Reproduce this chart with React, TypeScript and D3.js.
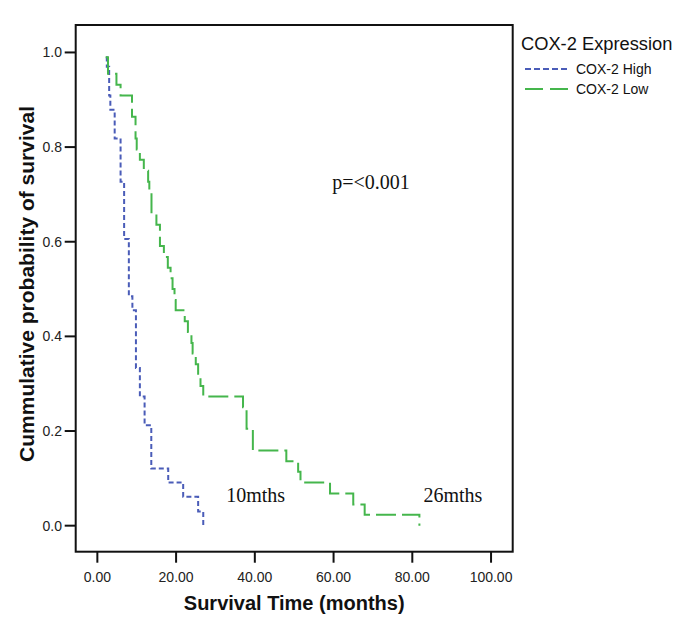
import React from "react";
import * as d3 from "d3";

// ---- Data ----
const X_TICKS = [0, 20, 40, 60, 80, 100];
const Y_TICKS = [0, 0.2, 0.4, 0.6, 0.8, 1.0];

// COX-2 High (Kaplan-Meier steps: time in months, cumulative survival)
const HIGH_TIMES = [2.2, 2.4, 3.0, 3.3, 4.4, 5.9, 6.8, 8.0, 8.9, 9.8, 10.8, 12.0, 13.7, 18.0, 21.8, 25.6, 26.9];
const HIGH_SURV = [0.99, 0.97, 0.909, 0.879, 0.818, 0.727, 0.606, 0.485, 0.455, 0.333, 0.273, 0.212, 0.121, 0.091, 0.061, 0.03, 0.0];

// COX-2 Low
const LOW_TIMES = [
  2.1, 2.7, 4.85, 5.9, 8.8, 9.7, 10.0, 10.8, 11.8, 12.9, 13.2, 13.75, 15.0, 15.9, 15.9, 16.9,
  17.9, 18.6, 19.1, 19.6, 19.9, 22.2, 23.0, 23.9, 24.2, 25.0, 25.6, 26.2, 26.9, 37.0, 37.9, 37.9,
  39.5, 39.5, 48.0, 51.0, 51.6, 59.1, 65.0, 67.9, 81.8,
];
const LOW_SURV = [
  0.99, 0.955, 0.932, 0.909, 0.864, 0.818, 0.795, 0.773, 0.75, 0.727, 0.705, 0.659, 0.636, 0.614, 0.591, 0.568,
  0.545, 0.523, 0.5, 0.477, 0.455, 0.432, 0.409, 0.386, 0.364, 0.341, 0.318, 0.295, 0.273, 0.25, 0.227, 0.205,
  0.182, 0.159, 0.136, 0.114, 0.091, 0.068, 0.045, 0.023, 0.0,
];

const SERIES = [
  { name: "COX-2 High", times: HIGH_TIMES, surv: HIGH_SURV, color: "#4a5cb8", dash: "5,3", legendDash: "6,3" },
  { name: "COX-2 Low", times: LOW_TIMES, surv: LOW_SURV, color: "#45b64c", dash: "20,6", legendDash: "18,7" },
];

const ANNOTATIONS = [
  { text: "p=<0.001", t: 69.5, s: 0.727 },
  { text: "10mths", t: 40.2, s: 0.065 },
  { text: "26mths", t: 90.3, s: 0.065 },
];

const W = 685;
const H = 634;
const SANS = "'Liberation Sans', Arial, Helvetica, sans-serif";
const SERIF = "'Liberation Serif', 'Times New Roman', serif";

export default function App() {
  // frame spans slightly beyond the tick range
  const x = d3.scaleLinear().domain([-5.5, 105.5]).range([75.7, 512.7]);
  const y = d3.scaleLinear().domain([-0.055, 1.058]).range([551.7, 25]);

  const line = d3
    .line<[number, number]>()
    .x((d) => x(d[0]))
    .y((d) => y(d[1]))
    .curve(d3.curveStepAfter);

  const [x0, x1] = x.range();
  const [yb, yt] = y.range();

  return (
    <svg
      width={W}
      height={H}
      style={{ position: "absolute", left: 0, top: 0, background: "#fff" }}
    >
      <rect x={0} y={0} width={W} height={H} fill="#fff" />
      {/* curves */}
      {SERIES.map((s) => {
        const pts: [number, number][] = s.times.map((t, i) => [t, s.surv[i]]);
        return (
          <path
            key={s.name}
            d={line(pts) || ""}
            fill="none"
            stroke={s.color}
            strokeWidth={2}
            strokeDasharray={s.dash}
          />
        );
      })}
      {/* frame */}
      <rect x={x0} y={yt} width={x1 - x0} height={yb - yt} fill="none" stroke="#111" strokeWidth={2} />
      {/* x ticks */}
      {X_TICKS.map((t) => (
        <g key={"x" + t}>
          <line x1={x(t)} x2={x(t)} y1={yb} y2={yb + 11} stroke="#111" strokeWidth={2} />
          <text
            x={x(t)}
            y={582}
            textAnchor="middle"
            fontFamily={SANS}
            fontSize={14}
            fill="#222"
          >
            {d3.format(".2f")(t)}
          </text>
        </g>
      ))}
      {/* y ticks */}
      {Y_TICKS.map((t) => (
        <g key={"y" + t}>
          <line x1={x0 - 11} x2={x0} y1={y(t)} y2={y(t)} stroke="#111" strokeWidth={2} />
          <text
            x={62}
            y={y(t)}
            dy="0.35em"
            textAnchor="end"
            fontFamily={SANS}
            fontSize={14}
            fill="#222"
          >
            {d3.format(".1f")(t)}
          </text>
        </g>
      ))}
      {/* axis titles */}
      <text
        x={(x0 + x1) / 2}
        y={603}
        dy="0.35em"
        textAnchor="middle"
        fontFamily={SANS}
        fontWeight="bold"
        fontSize={20}
        fill="#111"
      >
        Survival Time (months)
      </text>
      <text
        transform={`translate(27,284) rotate(-90)`}
        textAnchor="middle"
        dy="0.35em"
        fontFamily={SANS}
        fontWeight="bold"
        fontSize={21}
        fill="#111"
      >
        Cummulative probability of survival
      </text>
      {/* annotations */}
      {ANNOTATIONS.map((a) => (
        <text
          key={a.text}
          x={x(a.t)}
          y={y(a.s)}
          dy="0.35em"
          textAnchor="middle"
          fontFamily={SERIF}
          fontSize={20}
          fill="#111"
        >
          {a.text}
        </text>
      ))}
      {/* legend */}
      <text x={521} y={44} dy="0.35em" fontFamily={SANS} fontSize={18.3} fill="#111">
        COX-2 Expression
      </text>
      {SERIES.map((s, i) => (
        <g key={"lg" + s.name} transform={`translate(0,${69 + i * 20})`}>
          <line x1={525} x2={570} y1={0} y2={0} stroke={s.color} strokeWidth={2} strokeDasharray={s.legendDash} />
          <text x={576} y={0} dy="0.35em" fontFamily={SANS} fontSize={14} fill="#111">
            {s.name}
          </text>
        </g>
      ))}
    </svg>
  );
}
